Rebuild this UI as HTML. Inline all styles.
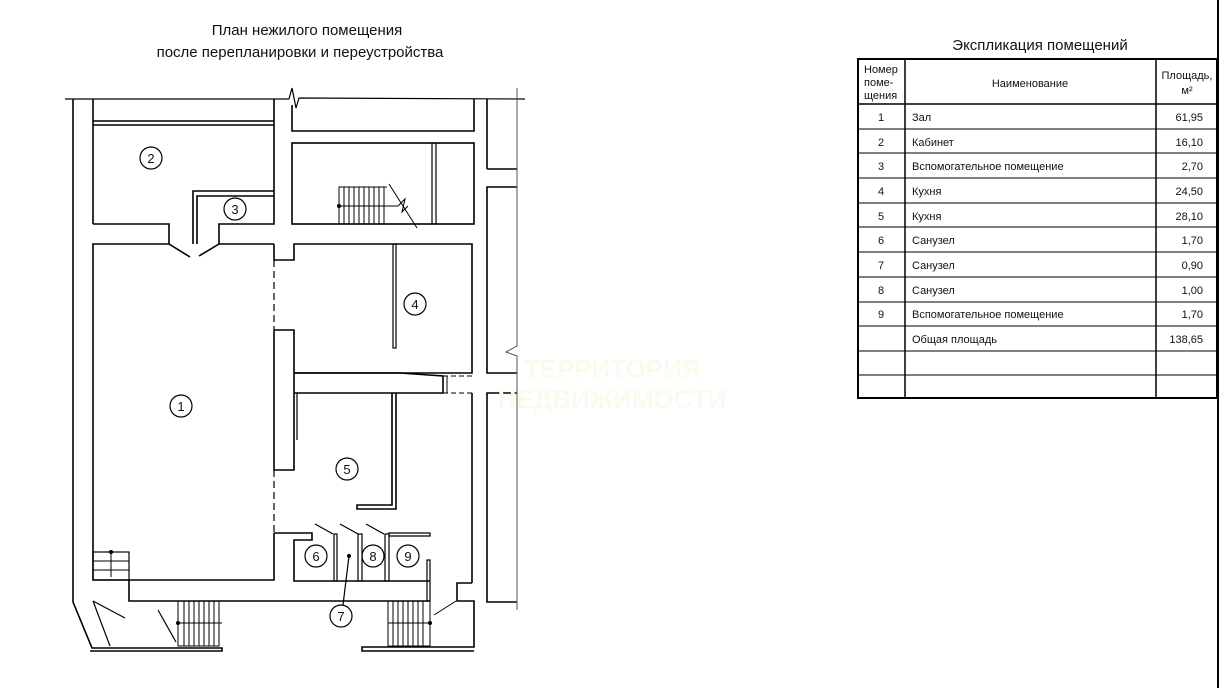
<!DOCTYPE html>
<html><head><meta charset="utf-8"><style>
html,body{margin:0;padding:0;background:#fff;}
svg{display:block;}
text{font-family:"Liberation Sans Narrow","Liberation Sans","DejaVu Sans",sans-serif;fill:#111;}
</style></head><body>
<svg width="1229" height="688" viewBox="0 0 1229 688" xmlns="http://www.w3.org/2000/svg">
<g fill="none" stroke="#000" stroke-width="1.6">
<line x1="65" y1="99" x2="289" y2="99" stroke-width="1.2"/>
<polyline points="289,99 292,88 296,108 299,98 525,99" stroke-width="1.2"/>
<polyline points="73,99 73,602 92,648 222,648 222,651 90,651"/>
<line x1="93" y1="99" x2="93" y2="224"/>
<polyline points="274,99 274,224 219,224 219,244 274,244"/>
<line x1="93" y1="121" x2="274" y2="121"/>
<line x1="93" y1="125" x2="274" y2="125"/>
<polyline points="93,224 169,224 169,244 93,244 93,580 274,580 274,533"/>
<line x1="169" y1="244" x2="190" y2="257"/>
<line x1="219" y1="244" x2="199" y2="256"/>
<polyline points="193,244 193,191 274,191"/>
<polyline points="197,244 197,196 274,196"/>
<polyline points="292,105 292,131 474,131 474,99"/>
<rect x="292" y="143" width="182" height="81"/>
<line x1="432" y1="143" x2="432" y2="224" stroke-width="1.2"/>
<line x1="436" y1="143" x2="436" y2="224" stroke-width="1.2"/>
<polyline points="274,244 274,260 294,260 294,244 472,244 472,373 294,373"/>
<line x1="487" y1="99" x2="487" y2="169"/>
<polyline points="517,169 487,169"/>
<polyline points="517,187 487,187 487,373 517,373"/>
<polyline points="517,393 487,393 487,602 517,602"/>
<rect x="393" y="244" width="3" height="104" stroke-width="1.2"/>
<polyline points="294,373 400,373 443,376 443,393 294,393"/>
<line x1="447" y1="376" x2="447" y2="393" stroke-width="1"/>
<line x1="443" y1="376" x2="472" y2="376" stroke-dasharray="5,3" stroke-width="1"/>
<line x1="443" y1="393" x2="472" y2="393" stroke-dasharray="5,3" stroke-width="1"/>
<polyline points="274,330 294,330 294,470 274,470 274,330"/>
<line x1="297" y1="393" x2="297" y2="440" stroke-width="1.2"/>
<line x1="274" y1="260" x2="274" y2="330" stroke-dasharray="7,4" stroke-width="1.2"/>
<line x1="274" y1="470" x2="274" y2="533" stroke-dasharray="7,4" stroke-width="1.2"/>
<polyline points="392,393 392,505 357,505 357,509 396,509 396,393"/>
<line x1="472" y1="393" x2="472" y2="583"/>
<polyline points="274,533 312,533 312,540 294,540 294,581 430,581"/>
<rect x="334" y="534" width="3" height="47" stroke-width="1.2"/>
<rect x="358" y="534" width="4" height="47" stroke-width="1.2"/>
<rect x="385" y="534" width="4" height="47" stroke-width="1.2"/>
<polyline points="389,536 389,533 430,533 430,536 389,536" stroke-width="1.2"/>
<line x1="315" y1="524" x2="333" y2="534" stroke-width="1.2"/>
<line x1="340" y1="524" x2="358" y2="534" stroke-width="1.2"/>
<line x1="366" y1="524" x2="384" y2="534" stroke-width="1.2"/>
<rect x="427" y="560" width="3" height="41" stroke-width="1.2"/>
<polyline points="129,580 129,601 430,601"/>
<polyline points="472,583 457,583 457,601 474,601 474,647 362,647 362,651 474,651"/>
<rect x="93" y="552" width="36" height="28" stroke-width="1.2"/>
<line x1="93" y1="561" x2="129" y2="561" stroke-width="1"/>
<line x1="93" y1="570" x2="129" y2="570" stroke-width="1"/>
<line x1="111" y1="552" x2="111" y2="577" stroke-width="1"/>
<polyline points="93,601 110,646" stroke-width="1.2"/>
<line x1="93" y1="601" x2="125" y2="618" stroke-width="1.2"/>
<line x1="158" y1="610" x2="176" y2="642" stroke-width="1.2"/>
<g stroke-width="1">
<rect x="178" y="601" width="41" height="45"/>
<line x1="184" y1="601" x2="184" y2="646"/><line x1="189" y1="601" x2="189" y2="646"/><line x1="194" y1="601" x2="194" y2="646"/><line x1="199" y1="601" x2="199" y2="646"/><line x1="204" y1="601" x2="204" y2="646"/><line x1="209" y1="601" x2="209" y2="646"/><line x1="214" y1="601" x2="214" y2="646"/>
<line x1="178" y1="623" x2="222" y2="623"/>
<rect x="388" y="601" width="42" height="45"/>
<line x1="393" y1="601" x2="393" y2="646"/><line x1="398" y1="601" x2="398" y2="646"/><line x1="403" y1="601" x2="403" y2="646"/><line x1="408" y1="601" x2="408" y2="646"/><line x1="413" y1="601" x2="413" y2="646"/><line x1="418" y1="601" x2="418" y2="646"/><line x1="423" y1="601" x2="423" y2="646"/>
<line x1="388" y1="623" x2="430" y2="623"/>
<line x1="434" y1="615" x2="456" y2="601"/>
<polyline points="339,224 339,187 387,187"/>
<line x1="344" y1="187" x2="344" y2="224"/><line x1="349" y1="187" x2="349" y2="224"/><line x1="354" y1="187" x2="354" y2="224"/><line x1="359" y1="187" x2="359" y2="224"/><line x1="364" y1="187" x2="364" y2="224"/><line x1="369" y1="187" x2="369" y2="224"/><line x1="374" y1="187" x2="374" y2="224"/><line x1="379" y1="187" x2="379" y2="224"/><line x1="384" y1="187" x2="384" y2="224"/>
<line x1="339" y1="206" x2="398" y2="206"/>
<polyline points="389,184 417,228"/>
<polyline points="398,206 405,199 402,212 408,206"/>
</g>
<polyline points="517,88 517,346 506,352 517,356 517,610" stroke="#555" stroke-width="1"/>
<g stroke-width="1.2">
<circle cx="151" cy="158" r="11"/><circle cx="235" cy="209" r="11"/><circle cx="415" cy="304" r="11"/>
<circle cx="181" cy="406" r="11"/><circle cx="347" cy="469" r="11"/><circle cx="316" cy="556" r="11"/>
<circle cx="373" cy="556" r="11"/><circle cx="408" cy="556" r="11"/><circle cx="341" cy="616" r="11"/>
<line x1="349" y1="556" x2="343" y2="605"/>
</g>
</g>
<g fill="#000"><circle cx="349" cy="556" r="2"/><circle cx="339" cy="206" r="2"/><circle cx="111" cy="552" r="2"/><circle cx="178" cy="623" r="2"/><circle cx="430" cy="623" r="2"/></g>
<g font-size="13" text-anchor="middle">
<text x="151" y="163">2</text><text x="235" y="214">3</text><text x="415" y="309">4</text>
<text x="181" y="411">1</text><text x="347" y="474">5</text><text x="316" y="561">6</text>
<text x="373" y="561">8</text><text x="408" y="561">9</text><text x="341" y="621">7</text>
</g>
<g font-size="15" text-anchor="middle">
<text x="307" y="35">План нежилого помещения</text>
<text x="300" y="57">после перепланировки и переустройства</text>
<text x="1040" y="50">Экспликация помещений</text>
</g>
<g font-size="26" font-weight="bold" text-anchor="middle">
<text x="612" y="378" style="fill:#fcf9ef">ТЕРРИТОРИЯ</text>
<text x="612" y="408" style="fill:#fcf9ef">НЕДВИЖИМОСТИ</text>
</g>
<g fill="none" stroke="#000">
<rect x="858" y="59" width="359" height="339" stroke-width="2"/>
<line x1="905" y1="59" x2="905" y2="398" stroke-width="1.5"/>
<line x1="1156" y1="59" x2="1156" y2="398" stroke-width="1.5"/>
<line x1="858" y1="104" x2="1217" y2="104" stroke-width="1.5"/>
<g stroke-width="1">
<line x1="858" y1="129" x2="1217" y2="129"/><line x1="858" y1="153" x2="1217" y2="153"/>
<line x1="858" y1="178" x2="1217" y2="178"/><line x1="858" y1="203" x2="1217" y2="203"/>
<line x1="858" y1="227" x2="1217" y2="227"/><line x1="858" y1="252" x2="1217" y2="252"/>
<line x1="858" y1="277" x2="1217" y2="277"/><line x1="858" y1="302" x2="1217" y2="302"/>
<line x1="858" y1="326" x2="1217" y2="326"/><line x1="858" y1="351" x2="1217" y2="351"/>
<line x1="858" y1="375" x2="1217" y2="375"/>
</g>
<line x1="1218" y1="0" x2="1218" y2="688" stroke-width="2"/>
</g>
<g font-size="11">
<text x="864" y="73">Номер</text><text x="864" y="86">поме-</text><text x="864" y="99">щения</text>
<text x="1030" y="87" text-anchor="middle">Наименование</text>
<text x="1187" y="79" text-anchor="middle">Площадь,</text><text x="1187" y="94" text-anchor="middle">м²</text>
</g>
<g font-size="11">
<g text-anchor="middle">
<text x="881" y="121">1</text><text x="881" y="146">2</text><text x="881" y="170">3</text><text x="881" y="195">4</text><text x="881" y="220">5</text><text x="881" y="244">6</text><text x="881" y="269">7</text><text x="881" y="294">8</text><text x="881" y="318">9</text>
</g>
<text x="912" y="121">Зал</text><text x="912" y="146">Кабинет</text><text x="912" y="170">Вспомогательное помещение</text><text x="912" y="195">Кухня</text><text x="912" y="220">Кухня</text><text x="912" y="244">Санузел</text><text x="912" y="269">Санузел</text><text x="912" y="294">Санузел</text><text x="912" y="318">Вспомогательное помещение</text><text x="912" y="343">Общая площадь</text>
<g text-anchor="end">
<text x="1203" y="121">61,95</text><text x="1203" y="146">16,10</text><text x="1203" y="170">2,70</text><text x="1203" y="195">24,50</text><text x="1203" y="220">28,10</text><text x="1203" y="244">1,70</text><text x="1203" y="269">0,90</text><text x="1203" y="294">1,00</text><text x="1203" y="318">1,70</text><text x="1203" y="343">138,65</text>
</g>
</g>
</svg>
</body></html>
